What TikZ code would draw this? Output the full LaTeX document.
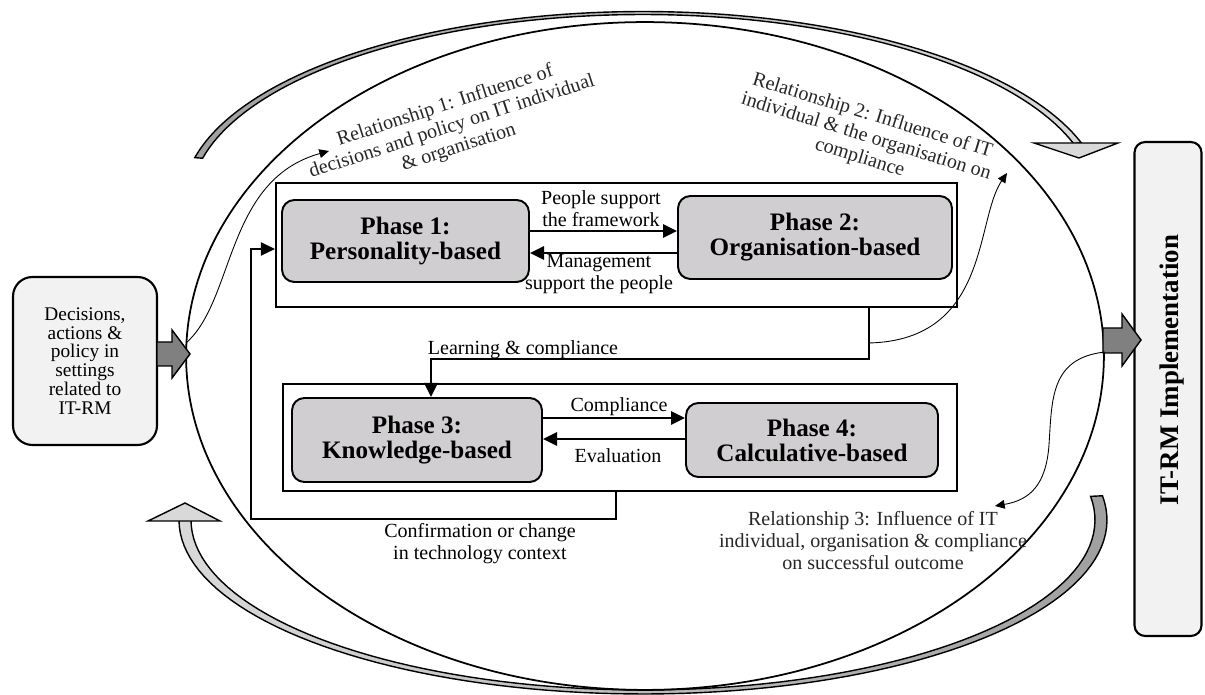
\documentclass[tikz,border=0pt]{standalone}
\usepackage{fontspec}
\setmainfont{Liberation Serif}
\usetikzlibrary{arrows.meta,calc}
\definecolor{phasegray}{RGB}{208,206,208}
\definecolor{boxgray}{RGB}{242,242,242}
\definecolor{fatgray}{RGB}{128,128,128}
\begin{document}
\begin{tikzpicture}[x=0.02cm,y=-0.02cm,
  phase/.style={draw, line width=1.1pt, fill=phasegray, rounded corners=7pt, align=center, inner sep=0pt, font=\bfseries\fontsize{14.3}{14.2}\selectfont},
  frame/.style={draw, line width=1.3pt, inner sep=0pt},
  conn/.style={line width=1.2pt, -{Triangle[length=8pt,width=7.5pt]}},
  thinarrow/.style={line width=0.5pt, -{Triangle[length=5.5pt,width=5pt]}},
  lbl/.style={align=center, inner sep=0pt, font=\fontsize{11.4}{12.5}\selectfont},
  rel/.style={align=center, inner sep=0pt, font=\fontsize{11.4}{12.5}\selectfont, text=black!85},
  sidebox/.style={draw, line width=1.2pt, fill=boxgray, inner sep=0pt},
  fat/.style={draw, line width=0.8pt, fill=fatgray},
  band/.style={draw, line width=0.8pt}]
\useasboundingbox (0,0) rectangle (1205,695);

% curved gray arrows
\draw[band, left color=gray!75, right color=gray!30]
  plot[domain=193:342.3, samples=90] ({643+460*cos(\x)},{200+188.5*sin(\x)})
  -- plot[domain=342.3:193, samples=90] ({643+452*cos(\x)},{200+185.5*sin(\x)}) -- cycle;
\draw[band, fill=gray!30] (1034,143) -- (1118,143) -- (1079,158) -- cycle;
\draw[band, left color=gray!30, right color=gray!75]
  plot[domain=-8:180, samples=90] ({643+464*cos(\x)},{520+174*sin(\x)})
  -- plot[domain=180:-8, samples=90] ({643+452*cos(\x)},{520+170*sin(\x)}) -- cycle;
\draw[band, fill=gray!30] (148,521) -- (220,521) -- (185,503) -- cycle;

% ellipse
\draw[line width=1pt] (645,356) ellipse [x radius=9.18cm, y radius=6.68cm];

% side boxes
\node[sidebox, rounded corners=11pt, minimum width=2.88cm, minimum height=3.36cm, align=center, font=\fontsize{11}{10.7}\selectfont] (dec) at (85,361) {Decisions,\\actions \&\\policy in\\settings\\related to\\IT-RM};
\node[sidebox, rounded corners=6pt, minimum width=1.34cm, minimum height=9.88cm] (impl) at (1168,389) {};
\node[rotate=90, font=\bfseries\fontsize{15.3}{16}\selectfont] (impltxt) at (1172,370) {IT-RM Implementation};

% fat arrows
\draw[fat] (157,342) -- (172,342) -- (172,330) -- (190,354) -- (172,378) -- (172,366) -- (157,366) -- cycle;
\draw[fat] (1103,328) -- (1122,328) -- (1122,314) -- (1141,340) -- (1122,366) -- (1122,353) -- (1103,353) -- cycle;

% frames and phases
\node[frame, minimum width=13.62cm, minimum height=2.48cm] (box1) at (616.5,245) {};
\node[frame, minimum width=13.48cm, minimum height=2.14cm] (box2) at (620,437.5) {};
\node[phase, minimum width=4.94cm, minimum height=1.64cm] (p1) at (405.5,241) {Phase 1:\\Personality-based};
\node[phase, minimum width=5.48cm, minimum height=1.66cm] (p2) at (815,237.5) {Phase 2:\\Organisation-based};
\node[phase, minimum width=5.0cm, minimum height=1.68cm] (p3) at (417,440) {Phase 3:\\Knowledge-based};
\node[phase, minimum width=5.04cm, minimum height=1.48cm] (p4) at (812,440) {Phase 4:\\Calculative-based};

% connectors
\draw[conn] (p1.east |- 0,231) -- (p2.west |- 0,231);
\draw[conn] (p2.west |- 0,253) -- (p1.east |- 0,253);
\draw[conn] (p3.east |- 0,418) -- (p4.west |- 0,418);
\draw[conn] (p4.west |- 0,439) -- (p3.east |- 0,439);
\coordinate (lc1) at (869,359);
\coordinate (lc2) at (431,359);
\draw[conn] (box1.south -| lc1) -- (lc1) -- (lc2) -- (p3.north -| lc2);
\coordinate (fb1) at (616,519);
\coordinate (fb2) at (251,519);
\coordinate (fb3) at (251,249);
\draw[conn] (box2.south -| fb1) -- (fb1) -- (fb2) -- (fb3) -- (box1.west |- fb3);

% thin relationship arrows
\coordinate (r1s) at (186,343);
\coordinate (r1e) at (329,151);
\draw[thinarrow] (r1s) .. controls (235,300) and (225,180) .. (r1e);
\coordinate (r2s) at (869,343);
\coordinate (r2e) at (1007,173);
\draw[thinarrow] (r2s) .. controls (990,340) and (975,220) .. (r2e);
\coordinate (r3s) at (1105,352);
\coordinate (r3m) at (1049,445);
\coordinate (r3e) at (995,506);
\draw[thinarrow] (r3s) .. controls (1050,358) and (1052,400) .. (r3m) .. controls (1046,485) and (1030,500) .. (r3e);

% labels
\node[lbl] (pslbl) at (601,209) {People support\\the framework};
\node[lbl] (mslbl) at (599,274) {Management\\support the people};
\node[lbl] (lclbl) at (523,350) {Learning \& compliance};
\node[lbl] (cplbl) at (619,407) {Compliance};
\node[lbl] (evlbl) at (618,456) {Evaluation};
\node[lbl] (cflbl) at (480,544) {Confirmation or change\\in technology context};
\node[rel, rotate=18] (rel1) at (452,127) {Relationship 1: Influence of\\decisions and policy on IT individual\\\& organisation};
\node[rel, rotate=-17] (rel2) at (866,137) {Relationship 2: Influence of IT\\individual \& the organisation on\\compliance};
\node[rel] (rel3) at (873,541) {Relationship 3: Influence of IT\\individual, organisation \& compliance\\on successful outcome};
\end{tikzpicture}
\end{document}
